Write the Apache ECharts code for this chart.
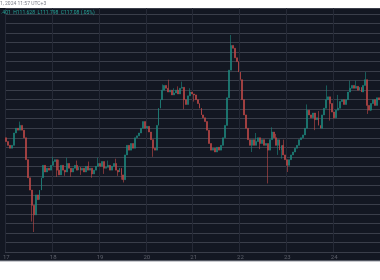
<!DOCTYPE html>
<html><head><meta charset="utf-8">
<script src="https://cdn.jsdelivr.net/npm/echarts@6/dist/echarts.min.js"></script>
<style>html,body{margin:0;padding:0;background:#fff}#c{width:380px;height:280px}</style>
</head><body><div id="c"></div>
<script>
// Day labels on the time axis (hourly candles, 24 per day)
const days = [17, 18, 19, 20, 21, 22, 23, 24];
const hoursPerDay = 24;
// Header texts
const headerDate = "1, 2024 11:57 UTC+3";
const headerOHLC = ".401  H111.628  L111.798  C117.08 (.05%)";
// Price scale
const priceMin = 110.0;
const priceMax = 112.563;
const priceStep = 0.1;
// Open of the first candle
const firstOpen = 111.20;
// Hourly closes
const closes = [
111.16,111.12,111.09,111.12,111.25,111.30,111.28,111.33,111.28,111.20,
110.97,110.78,110.65,110.49,110.39,110.60,110.55,110.65,110.78,110.91,
110.84,110.88,110.86,110.91,110.95,110.97,110.86,110.81,110.91,110.86,
110.84,110.93,110.88,110.84,110.88,110.91,110.86,110.89,110.86,110.88,
110.84,110.90,110.86,110.88,110.82,110.86,110.90,110.93,110.90,110.95,
110.88,110.89,110.91,110.86,110.90,110.93,110.86,110.84,110.88,110.81,
110.76,111.02,111.12,111.07,111.14,111.09,111.20,111.22,111.25,111.30,
111.37,111.30,111.32,111.26,111.18,111.09,111.07,111.33,111.51,111.60,
111.70,111.75,111.72,111.68,111.70,111.65,111.67,111.70,111.66,111.72,
111.73,111.60,111.55,111.64,111.68,111.66,111.65,111.60,111.56,111.51,
111.44,111.41,111.37,111.28,111.14,111.07,111.09,111.05,111.10,111.07,
111.12,111.20,111.33,111.62,111.91,112.17,112.14,112.04,112.00,111.89,
111.81,111.60,111.44,111.30,111.18,111.12,111.18,111.12,111.16,111.20,
111.14,111.18,111.12,111.14,111.07,111.18,111.26,111.20,111.12,111.18,
111.07,111.12,111.02,110.97,110.91,110.97,111.02,111.05,111.09,111.12,
111.18,111.20,111.23,111.30,111.49,111.44,111.41,111.46,111.39,111.41,
111.33,111.30,111.44,111.51,111.60,111.63,111.56,111.47,111.41,111.49,
111.51,111.58,111.60,111.55,111.60,111.68,111.72,111.75,111.72,111.74,
111.70,111.73,111.68,111.75,111.81,111.54,111.49,111.56,111.60,111.54,
111.62,111.60
];
// Visible wicks: [candle index, price]
const wickHighs = [[7,111.37],[24,111.00],[27,110.97],[31,110.99],[36,110.96],[42,110.95],[47,110.99],[52,110.96],[56,110.98],
  [80,111.76],[83,111.81],[86,111.72],[88,111.74],[90,111.79],[94,111.72],[115,112.28],[128,111.25],[136,111.31],[138,111.24],[142,111.18],
  [154,111.55],[160,111.48],[164,111.75],[170,111.65],[176,111.80],[179,111.80],[184,111.89]];
const wickLows = [[13,110.32],[14,110.21],[26,110.79],[30,110.80],[33,110.79],[38,110.81],[44,110.78],[50,110.82],[57,110.80],[59,110.76],[60,110.73],
  [75,111.00],[91,111.50],[96,111.58],[126,111.05],[130,111.08],[134,110.72],[139,111.02],[141,110.98],[144,110.84],
  [158,111.28],[166,111.38],[168,111.40],[185,111.45],[187,111.48]];

const categories = [];
days.forEach(d => { for (let h = 0; h < hoursPerDay; h++) categories.push(d + ' ' + String(h).padStart(2,'0') + ':00'); });

const hiMap = new Map(wickHighs), loMap = new Map(wickLows);
const ohlc = closes.map((c, i) => {
  const o = i === 0 ? firstOpen : closes[i-1];
  const hi = hiMap.has(i) ? Math.max(hiMap.get(i), o, c) : Math.max(o, c);
  const lo = loMap.has(i) ? Math.min(loMap.get(i), o, c) : Math.min(o, c);
  return [o, c, lo, hi];
});

const chart = echarts.init(document.getElementById('c'), null, {renderer: 'canvas'});
chart.setOption({
  animation: false,
  backgroundColor: '#131722',
  grid: {left: -3, right: -1, top: 8, bottom: 28, containLabel: false},
  xAxis: {
    type: 'category', data: categories, boundaryGap: true,
    axisLine: {show: true, lineStyle: {color: '#3a3e4a', width: 1}},
    axisTick: {show: false},
    axisLabel: {interval: (i) => i % hoursPerDay === 0, formatter: (v) => v.split(' ')[0],
      color: '#5d606b', fontSize: 6, margin: 2, fontFamily: 'Roboto'},
    splitLine: {show: true, interval: (i) => i % hoursPerDay === 0, lineStyle: {color: '#252936', width: 1}}
  },
  yAxis: {
    type: 'value', min: priceMin, max: priceMax, interval: priceStep,
    axisLine: {show: false}, axisTick: {show: false}, axisLabel: {show: false},
    splitLine: {show: true, lineStyle: {color: '#3a3e4a', width: 1}}
  },
  series: [{
    type: 'candlestick', data: ohlc, barWidth: 1.4,
    itemStyle: {color: '#1f8a80', color0: '#c24a48', borderColor: '#1f8a80', borderColor0: '#c24a48', borderWidth: 0.6}
  }],
  graphic: [
    {type: 'rect', shape: {x: 0, y: 0, width: 380, height: 8}, style: {fill: '#ffffff'}, z: 100},
    {type: 'rect', shape: {x: 0, y: 261, width: 380, height: 19}, style: {fill: '#ffffff'}, z: 100},
    {type: 'line', shape: {x1: 0, y1: 261, x2: 380, y2: 261}, style: {stroke: '#9598a1', lineWidth: 1}, z: 101},
    {type: 'text', x: 0, y: 1, style: {text: headerDate, fill: '#787b86', fontSize: 5, fontFamily: 'Roboto'}, z: 101},
    {type: 'text', x: 1, y: 10, style: {text: headerOHLC, fill: '#26a69a', fontSize: 5, fontFamily: 'Roboto'}, z: 101}
  ]
});
</script></body></html>
